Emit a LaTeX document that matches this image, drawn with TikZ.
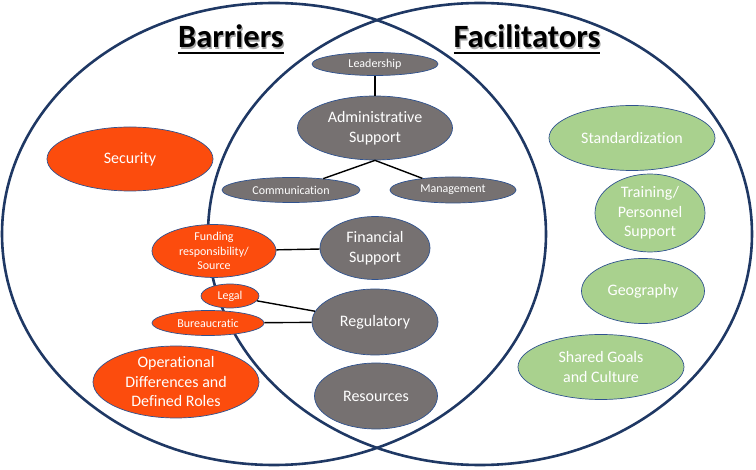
\documentclass[tikz,border=0pt]{standalone}
\usepackage{fontspec}
\setmainfont{Carlito}[Ligatures=NoCommon]
\usepackage{tikz}
\usetikzlibrary{shapes.geometric,positioning}
\definecolor{navy}{HTML}{1F3864}
\definecolor{edgeblue}{HTML}{2F528F}
\definecolor{barrierred}{HTML}{FC4C0D}
\definecolor{sharedgray}{HTML}{767171}
\definecolor{facilgreen}{HTML}{A9D18E}
\newcommand\ultitle[1]{\setbox0\hbox{#1}\rlap{\color{black!35}\kern1.2pt\raisebox{-1.2pt}{#1}}\rlap{\rule[-6pt]{\wd0}{2pt}}\box0}
\tikzset{
	venn/.style={
		draw=navy, line width=2.6pt, ellipse,
		minimum width=544pt, minimum height=462pt
	},
	bubble/.style={
		draw=edgeblue, line width=0.7pt, ellipse,
		inner sep=0pt, align=center, text=white,
		font=\fontsize{16}{19.5}\selectfont
	},
	small/.style={font=\fontsize{12}{14.5}\selectfont},
	barrier/.style={bubble, fill=barrierred},
	shared/.style={bubble, fill=sharedgray},
	facil/.style={bubble, fill=facilgreen},
	heading/.style={font=\fontsize{32.5}{36}\selectfont\bfseries, inner sep=0pt, anchor=base},
	link/.style={line width=1.4pt, black}
}
\begin{document}
\begin{tikzpicture}[x=1pt,y=-1pt]
				\useasboundingbox (0,0) rectangle (756,470);
				\node[venn] (barrierset) at (274,234) {};
				\node[venn] (facilset) at (480,234) {};
				\node[heading] (barriers) at (231,48) {\ultitle{Barriers}};
				\node[heading] (facilitators) at (527,48) {\ultitle{Facilitators}};
				% overlap
				\node[shared,small,minimum width=126pt,minimum height=23pt] (leader) at (375,64) {Leadership};
				\node[shared,minimum width=155pt,minimum height=64pt] (admin) at (375,128) {Administrative\\Support};
				\node[shared,small,minimum width=138pt,minimum height=25pt] (comm) at (291,190) {Communication};
				\node[shared,small,minimum width=126pt,minimum height=26pt] (manage) at (453,190) {Management};
				\node[shared,minimum width=110pt,minimum height=63pt] (finance) at (375,248) {Financial\\Support};
				\node[shared,minimum width=126pt,minimum height=66pt] (regul) at (375,322) {Regulatory};
				\node[shared,minimum width=123pt,minimum height=66pt] (resource) at (376,396) {Resources};
				% barriers
				\node[barrier,minimum width=166pt,minimum height=64pt] (security) at (130,159) {Security};
				\node[barrier,small,minimum width=124pt,minimum height=43pt] (funding) at (214,251) {Funding\\responsibility/\\Source};
				\node[barrier,small,minimum width=58pt,minimum height=24pt] (legal) at (230,296) {Legal};
				\node[barrier,small,minimum width=112pt,minimum height=25pt] (bureau) at (208,323) {Bureaucratic};
				\node[barrier,minimum width=166pt,minimum height=72pt] (operation) at (176,382) {Operational\\Differences and\\Defined Roles};
				% facilitators
				\node[facil,minimum width=166pt,minimum height=65pt] (standard) at (632,138) {Standardization};
				\node[facil,minimum width=110pt,minimum height=78pt] (training) at (650,213) {Training/\\Personnel\\Support};
				\node[facil,minimum width=123pt,minimum height=65pt] (geo) at (643,291) {Geography};
				\node[facil,minimum width=166pt,minimum height=65pt] (goals) at (601,367) {Shared Goals\\and Culture};
				\draw[link] (leader) -- (admin);
				\draw[link] (admin.south) -- (comm);
				\draw[link] (admin.south) -- (manage);
				\draw[link] (funding) -- (finance);
				\draw[link] (legal) -- (regul);
				\draw[link] (bureau) -- (regul);
			\end{tikzpicture}
\end{document}
